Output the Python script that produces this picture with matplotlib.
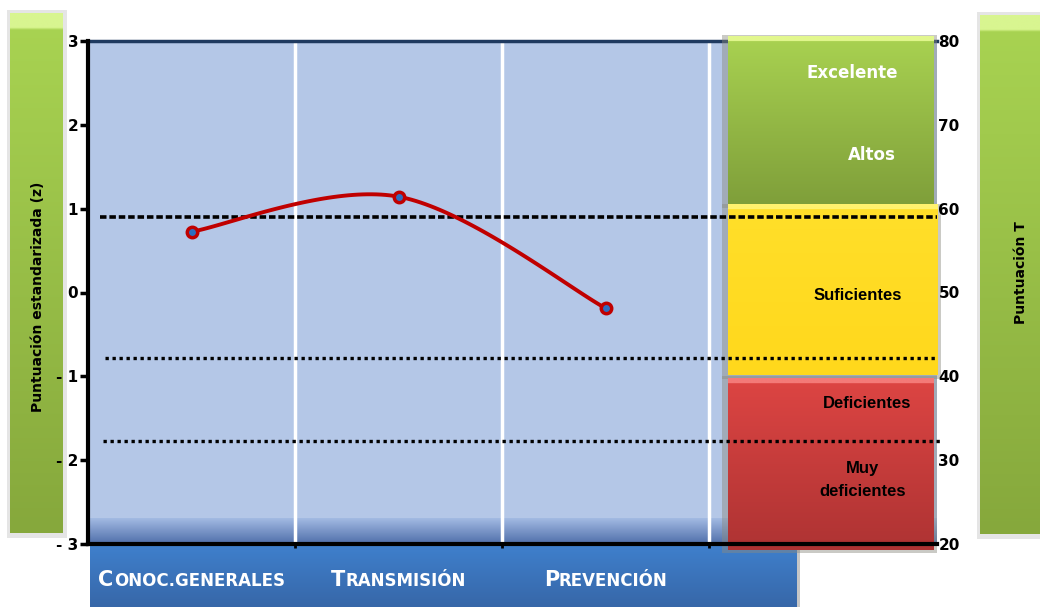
import numpy as np
import matplotlib
matplotlib.use('Agg')
import matplotlib.pyplot as plt
from matplotlib.colors import to_rgb
from matplotlib.patches import Rectangle
from matplotlib.transforms import ScaledTranslation, blended_transform_factory

plt.rcParams['font.family'] = ['DejaVu Sans']

# Data
categories = [('C', 'ONOC.GENERALES'), ('T', 'RANSMISIÓN'), ('P', 'REVENCIÓN')]
z_scores = [0.725, 1.143, -0.188]
z_ticks = [3, 2, 1, 0, -1, -2, -3]
z_tick_labels = ['3', '2', '1', '0', '- 1', '- 2', '- 3']
t_ticks = [80, 70, 60, 50, 40, 30, 20]
cut_z = [0.897, -0.78, -1.77]
band_low = [60.5, 40.1, 19.3]
band_high = [80.5, 60.4, 39.8]
band_top = ['#A9D251', '#FFDF2A', '#DD4543']
band_bottom = ['#7F9F3A', '#FFD81C', '#AE3333']
band_stripe = ['#E2F78E', '#FFF26E', '#F47A78']


def t_to_z(t):
    return (np.asarray(t) - 50) / 10.0


def smooth(xs, ys, n=50):
    # excel-like smoothed line (catmull-rom as bezier)
    pts = np.column_stack([xs, ys])
    out = []
    for i in range(len(pts) - 1):
        p0 = pts[max(i - 1, 0)]
        p1 = pts[i]
        p2 = pts[i + 1]
        p3 = pts[min(i + 2, len(pts) - 1)]
        c1 = p1 + (p2 - p0) / 6
        c2 = p2 - (p3 - p1) / 6
        t = np.linspace(0, 1, n)[:, None]
        out.append((1 - t) ** 3 * p1 + 3 * (1 - t) ** 2 * t * c1 + 3 * (1 - t) * t ** 2 * c2 + t ** 3 * p2)
    return np.vstack(out)


def gradient(ax, x0, x1, ybot, ytop, top, bottom, stripe=None, n_stripe=0, **kw):
    c = np.linspace(0, 1, 200)[:, None]
    rgb = (1 - c) * np.array(to_rgb(top)) + c * np.array(to_rgb(bottom))
    if stripe:
        rgb[:n_stripe] = to_rgb(stripe)
    return ax.imshow(rgb[:, None, :], extent=(x0, x1, ybot, ytop), aspect='auto',
                     origin='upper', interpolation='bilinear', **kw)


fig = plt.figure(figsize=(10.4, 6.07), dpi=100)

# background layer in pixel coords
bg = fig.add_axes([0, 0, 1, 1], zorder=0)
bg.axis('off')

# side bars
bg.add_patch(Rectangle((7, 10), 60, 528, color='#D5D5D5', alpha=0.6, lw=0, zorder=0))
gradient(bg, 10, 63, 533, 13, '#A9D452', '#86A83C', '#D8F590', 6, zorder=1)
bg.add_patch(Rectangle((977, 12), 63, 527, color='#D5D5D5', alpha=0.6, lw=0, zorder=0))
gradient(bg, 980, 1040, 534, 15, '#A9D452', '#86A83C', '#D8F590', 6, zorder=1)
bg.text(38, 297, 'Puntuación estandarizada (z)', rotation=90, ha='center', va='center',
        fontsize=10, fontweight='bold', color='black', zorder=2)
bg.text(1021, 273, 'Puntuación T', rotation=90, ha='center', va='center',
        fontsize=10, fontweight='bold', color='black', zorder=2)

# bottom blue box
bg.add_patch(Rectangle((90, 544), 710, 63, color='#A0A0A0', alpha=0.6, lw=0, zorder=0))
gradient(bg, 90, 797, 607, 544, '#3F80CD', '#3767A8', zorder=1)
bg.set_xlim(0, 1040)
bg.set_ylim(607, 0)

# main axes
ax = fig.add_axes([88 / 1040, 63 / 607, (937 - 88) / 1040, (544 - 41) / 607], zorder=2)
ax.set_facecolor('#B4C7E7')

# blue stripes at the bottom of the plot area
gradient(ax, 0, 4.1, -3, -2.69, '#A3BBE3', '#4F6EAA', zorder=1)

for x in [1, 2, 3]:
    ax.axvline(x, color='white', lw=2.5, zorder=1.5)

# classification bands
for lo, hi, top, bot, st in zip(band_low, band_high, band_top, band_bottom, band_stripe):
    x1 = 4.1 if st == '#FFF26E' else 4.08
    z0, z1 = t_to_z(lo), t_to_z(hi)
    ax.add_patch(Rectangle((3.06, z0 - 0.04), x1 - 3.04, z1 - z0 + 0.06, color='#8A8A80',
                           alpha=0.45, lw=0, zorder=2.8, clip_on=False))
    gradient(ax, 3.09, x1, z0, z1, top, bot, st, 6, zorder=3, clip_on=False)

# cut lines
ax.plot([0.058, 4.1], [cut_z[0]] * 2, color='black', lw=2.6, ls=(0, (1.8, 0.8)), zorder=4, clip_on=False)
ax.plot([0.082, 4.1], [cut_z[1]] * 2, color='black', lw=2.4, ls=(0, (1, 1.1)), zorder=4, clip_on=False)
ax.plot([0.072, 4.12], [cut_z[2]] * 2, color='black', lw=2.4, ls=(0, (1, 1.1)), zorder=4, clip_on=False)

# series
xs = np.arange(len(z_scores)) + 0.5
curve = smooth(xs, z_scores)
ax.plot(curve[:, 0], curve[:, 1], color='#C00000', lw=2.8, zorder=5)
ax.plot(xs, z_scores, 'o', ms=7.5, mfc='#2E6EC0', mec='#C00000', mew=2.5, zorder=6)

# band labels
tw = dict(zorder=7, fontsize=12, fontweight='bold')
ax.text(3.91, t_to_z(76.2), 'Excelente', ha='right', va='center', color='white', **tw)
ax.text(3.90, t_to_z(66.4), 'Altos', ha='right', va='center', color='white', **tw)
ax.text(3.715, t_to_z(49.7), 'Suficientes', ha='center', va='center', color='black',
        family='Liberation Sans', **tw)
ax.text(3.76, t_to_z(36.8), 'Deficientes', ha='center', va='center', color='black',
        family='Liberation Sans', **tw)
ax.text(3.74, t_to_z(27.6), 'Muy\ndeficientes', ha='center', va='center', color='black',
        family='Liberation Sans', linespacing=1.65, **tw)

ax.set_xlim(0, 4.1)
ax.set_ylim(-3, 3)
ax.set_yticks(z_ticks)
ax.set_yticklabels(z_tick_labels, fontsize=11, fontweight='bold')
ax.tick_params(axis='y', length=6, width=2.5, pad=1, colors='black')
ax.set_xticks([1, 2, 3])
ax.set_xticklabels([])
ax.tick_params(axis='x', length=3, width=2, colors='black')
ax.spines['top'].set_color('#1F3A60')
ax.spines['top'].set_linewidth(2.5)
ax.spines['left'].set_linewidth(3)
ax.spines['bottom'].set_linewidth(3)
ax.spines['right'].set_visible(False)
for s in ['left', 'bottom']:
    ax.spines[s].set_color('black')
    ax.spines[s].set_zorder(4)

ax2 = ax.twinx()
ax2.set_ylim(20, 80)
ax2.set_yticks(t_ticks)
ax2.set_yticklabels([str(t) for t in t_ticks], fontsize=11, fontweight='bold')
ax2.tick_params(axis='y', length=0, pad=1)
for s in ax2.spines.values():
    s.set_visible(False)

# category labels in small caps
trans = blended_transform_factory(ax.transData, bg.transData)
r = fig.canvas.get_renderer()
for i, (big, small) in enumerate(categories):
    t1 = fig.text(i + 0.5, 586, big, transform=trans, fontsize=15, fontweight='bold',
                  color='white', ha='left', va='baseline', zorder=8)
    t2 = fig.text(0, 0, small, fontsize=12, fontweight='bold', color='white', zorder=8)
    w1 = t1.get_window_extent(r).width
    w2 = t2.get_window_extent(r).width
    t2.remove()
    off = ScaledTranslation(-(w1 + w2) / 2 / fig.dpi, 0, fig.dpi_scale_trans)
    t1.set_transform(trans + off)
    fig.text(i + 0.5, 586, small, fontsize=12, fontweight='bold', color='white', ha='left',
             va='baseline', zorder=8,
             transform=trans + ScaledTranslation((w1 - (w1 + w2) / 2) / fig.dpi, 0, fig.dpi_scale_trans))

fig.savefig('out.png', dpi=100)
